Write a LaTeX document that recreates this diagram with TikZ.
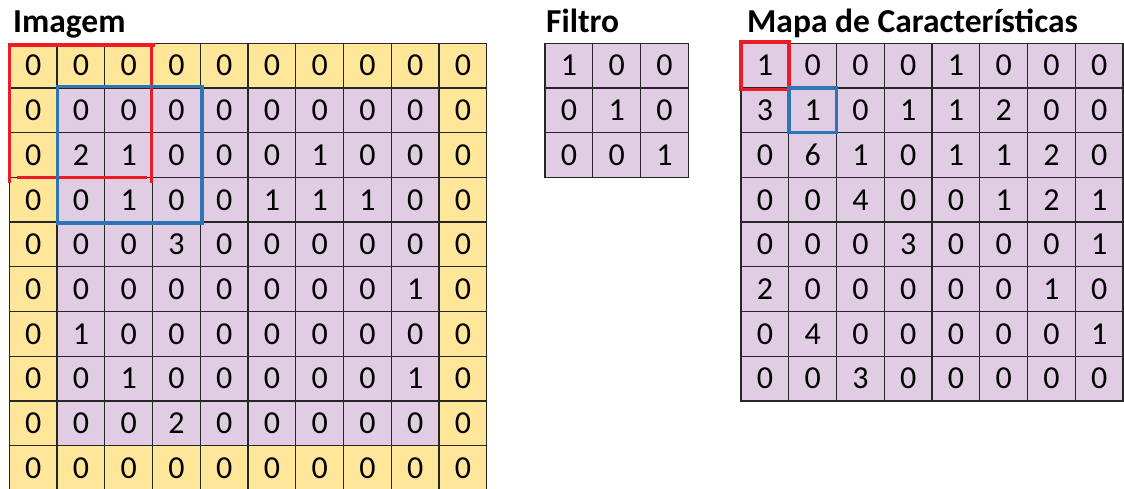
\documentclass[tikz,border=0pt]{standalone}
\usepackage{fontspec}
\setmainfont{Carlito}
\definecolor{padyellow}{RGB}{255,230,153}
\definecolor{celllilac}{RGB}{224,205,228}
\definecolor{markred}{RGB}{237,28,36}
\definecolor{markblue}{RGB}{46,117,182}

\begin{document}
\begin{tikzpicture}[
  x=1pt, y=-1pt,
  cell/.style={draw=black!85, line width=1.2pt, fill=celllilac, minimum width=47.75pt, minimum height=44.7pt, inner sep=0pt, outer sep=0pt, font=\fontsize{32}{38}\selectfont},
  title/.style={anchor=base west, inner sep=0pt, font=\fontsize{33.5}{40}\selectfont\bfseries},
  markbox/.style={line width=3.6pt}
]
\useasboundingbox (0,0) rectangle (1124,489);

% titles
\node[title] (img-title) at (13,32.5) {Imagem};
\node[title] (filt-title) at (546,32.5) {Filtro};
\node[title] (map-title) at (747,32.5) {Mapa de Características};

% input image with zero padding
\foreach \rowvals [count=\r] in {
  {0,0,0,0,0,0,0,0,0,0},
  {0,0,0,0,0,0,0,0,0,0},
  {0,2,1,0,0,0,1,0,0,0},
  {0,0,1,0,0,1,1,1,0,0},
  {0,0,0,3,0,0,0,0,0,0},
  {0,0,0,0,0,0,0,0,1,0},
  {0,1,0,0,0,0,0,0,0,0},
  {0,0,1,0,0,0,0,0,1,0},
  {0,0,0,2,0,0,0,0,0,0},
  {0,0,0,0,0,0,0,0,0,0}} {
  \foreach \v [count=\c] in \rowvals {
    \pgfmathtruncatemacro{\pad}{or(or(\r==1,\r==10),or(\c==1,\c==10))}
    \ifnum\pad=1 \def\cellfill{padyellow}\else\def\cellfill{celllilac}\fi
    \node[cell, fill=\cellfill] (img-\r-\c) at ({9.3+(\c-0.5)*47.75},{43.3+(\r-0.5)*44.7}) {\v};
  }
}

% filter
\foreach \rowvals [count=\r] in {{1,0,0},{0,1,0},{0,0,1}} {
  \foreach \v [count=\c] in \rowvals {
    \node[cell] (filt-\r-\c) at ({545+(\c-0.5)*47.75},{43.3+(\r-0.5)*44.7}) {\v};
  }
}

% feature map
\foreach \rowvals [count=\r] in {
  {1,0,0,0,1,0,0,0},
  {3,1,0,1,1,2,0,0},
  {0,6,1,0,1,1,2,0},
  {0,0,4,0,0,1,2,1},
  {0,0,0,3,0,0,0,1},
  {2,0,0,0,0,0,1,0},
  {0,4,0,0,0,0,0,1},
  {0,0,3,0,0,0,0,0}} {
  \foreach \v [count=\c] in \rowvals {
    \node[cell] (map-\r-\c) at ({741+(\c-0.5)*47.75},{43.3+(\r-0.5)*44.7}) {\v};
  }
}

% first window (red), hand-drawn look
\draw[markbox, markred] (img-1-1.north west) -- ([yshift=-6pt]img-3-1.south west);
\draw[markbox, markred] ([yshift=-2pt]img-1-1.north west) -- ([xshift=2pt, yshift=-2pt]img-1-3.north east);
\draw[markbox, markred] ([xshift=-1pt]img-1-3.north east) -- ([xshift=-1pt, yshift=-6pt]img-3-3.south east);
\draw[markbox, markred] ([xshift=8pt]img-3-1.south west) -- ([xshift=-6pt]img-3-3.south east);
\draw[markbox, markred] ([yshift=1pt]map-1-1.north west) rectangle ([yshift=-1.5pt]map-1-1.south east);

% second window (blue)
\draw[markbox, markblue] ([xshift=0.5pt, yshift=1.5pt]img-2-2.north west) rectangle ([xshift=1.5pt, yshift=-1pt]img-4-4.south east);
\draw[markbox, markblue] (map-2-2.north west) rectangle (map-2-2.south east);
\end{tikzpicture}
\end{document}
